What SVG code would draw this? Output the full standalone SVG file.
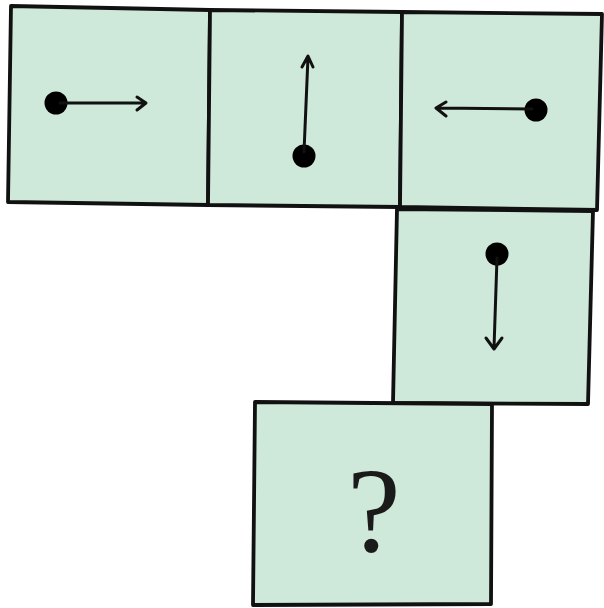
<svg xmlns="http://www.w3.org/2000/svg" width="604" height="608" viewBox="0 0 604 608">
<defs>
<style>
.cell{fill:#cee8d9;stroke:#111;stroke-width:3.8;stroke-linejoin:round}
.arr{fill:none;stroke:#111;stroke-width:3;stroke-linecap:round;stroke-linejoin:round}
.dot{fill:#000}
.q{font-family:"Liberation Serif","DejaVu Serif",serif;font-size:120px;fill:#1a1a1a;text-anchor:middle}
</style>
</defs>
<rect width="604" height="608" fill="#fff"/>
<g id="cell1">
<polygon class="cell" points="11,6 210,10 208,205 8,202"/>
</g>
<g id="cell2">
<polygon class="cell" points="210,10 402,12 400,207 208,205"/>
</g>
<g id="cell3">
<polygon class="cell" points="402,12 602,14 597,210 400,207"/>
</g>
<g id="cell4">
<polygon class="cell" points="397,209 593,211 588,404 393,403"/>
</g>
<g id="cell5">
<polygon class="cell" points="255,402 492,404 491,604 253,605"/>
<text class="q" x="374" y="551">?</text>
</g>
<g id="connectors">
<circle class="dot" cx="56" cy="103" r="11.5"/>
<path class="arr" d="M60,103 L145,103 M137,97 L146,103 L137,110"/>
<circle class="dot" cx="304" cy="156" r="11.5"/>
<path class="arr" d="M304,152 L308,57 M302,67 L308,56 L313,67"/>
<circle class="dot" cx="536" cy="110" r="11.5"/>
<path class="arr" d="M532,109 L437,108 M446,102 L436,108 L446,116"/>
<circle class="dot" cx="497" cy="254" r="11.5"/>
<path class="arr" d="M497,258 L494,348 M486,338 L494,349 L502,338"/>
</g>
</svg>
